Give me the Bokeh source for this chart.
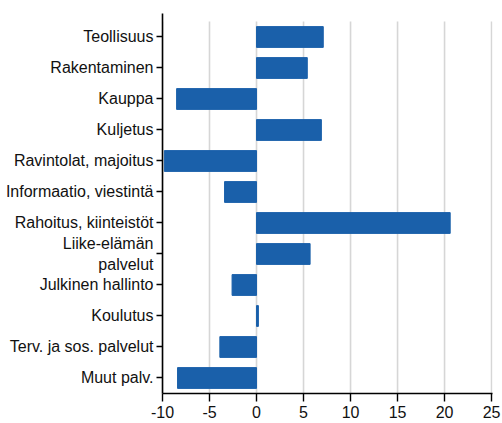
from bokeh.plotting import figure
from bokeh.models import Range1d, FixedTicker
from bokeh.embed import file_html
from bokeh.resources import INLINE

categories = ["Teollisuus", "Rakentaminen", "Kauppa", "Kuljetus",
              "Ravintolat, majoitus", "Informaatio, viestintä",
              "Rahoitus, kiinteistöt", "Liike-elämän\npalvelut",
              "Julkinen hallinto", "Koulutus", "Terv. ja sos. palvelut",
              "Muut palv."]
values = [7.1, 5.4, -8.5, 6.9, -9.8, -3.4, 20.6, 5.7, -2.6, 0.2, -3.9, -8.4]
x_ticks = [-10, -5, 0, 5, 10, 15, 20, 25]
x_tick_labels = ["-10", "-5", "0", "5", "10", "15", "20", "25"]

idx = list(range(len(categories)))

p = figure(width=502, height=423, output_backend="svg", toolbar_location=None,
           x_range=Range1d(-10, 25.1), y_range=Range1d(11.5, -0.758),
           min_border_left=162, min_border_right=10, min_border_top=13,
           min_border_bottom=30)
p.outline_line_color = None
p.xgrid.visible = False
p.ygrid.visible = False

# vertical grid lines from tick values, spanning the category bands
p.segment(x0=x_ticks, x1=x_ticks, y0=[-0.5] * len(x_ticks),
          y1=[11.5] * len(x_ticks), line_color="#d6d6d6", line_width=1.6)

p.hbar(y=idx, left=0, right=values, height=0.67, color="#1A60AA")

font = "Liberation Sans"
for ax in (p.xaxis[0], p.yaxis[0]):
    ax.axis_line_color = "black"
    ax.axis_line_width = 1.6
    ax.major_tick_line_color = "black"
    ax.major_tick_line_width = 1.4
    ax.major_tick_in = 0
    ax.minor_tick_line_color = None
    ax.major_label_text_font = font
    ax.major_label_text_font_size = "16px"
    ax.major_label_text_color = "#111111"

p.xaxis.ticker = FixedTicker(ticks=x_ticks)
p.xaxis.major_label_overrides = {t: s for t, s in zip(x_ticks, x_tick_labels)}
p.xaxis.major_tick_out = 8
p.xaxis.major_label_standoff = 4

p.yaxis.ticker = FixedTicker(ticks=idx)
p.yaxis.major_label_overrides = {i: c for i, c in zip(idx, categories)}
p.yaxis.major_tick_out = 6
p.yaxis.major_label_standoff = 3

open("out.html", "w").write(file_html(p, INLINE))
